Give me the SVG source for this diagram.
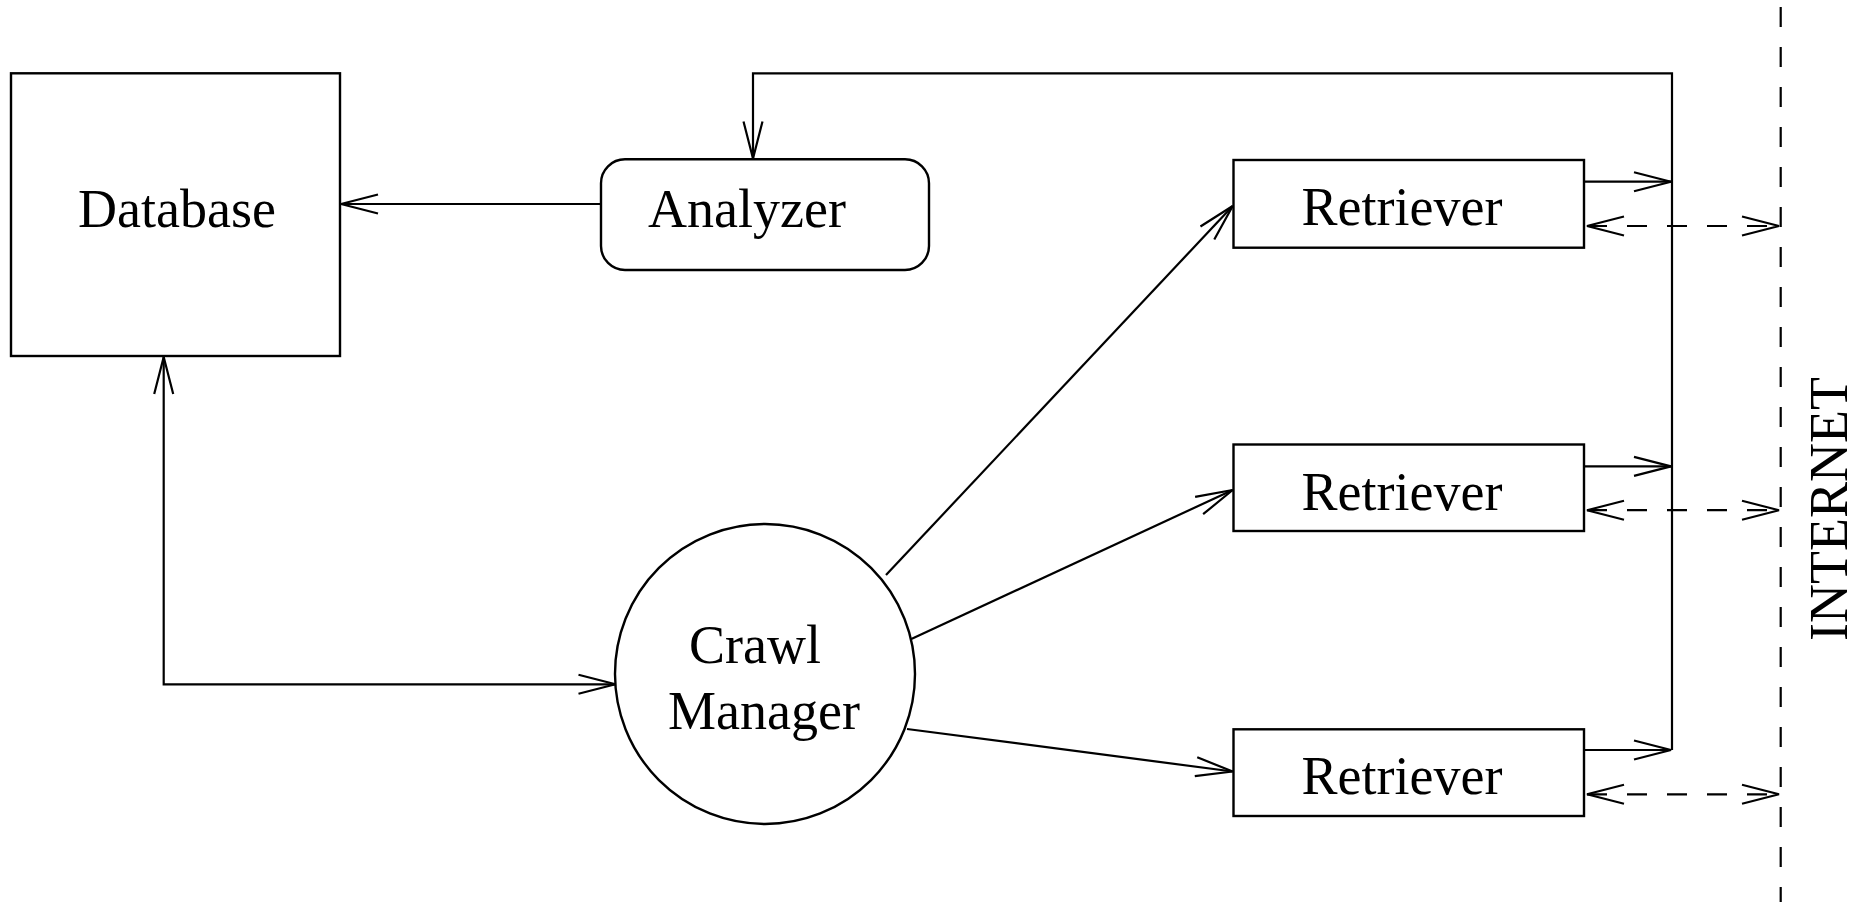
<svg xmlns="http://www.w3.org/2000/svg" width="1866" height="902" viewBox="0 0 1866 902">
<style>
.box{fill:#fff;stroke:#000;stroke-width:2.4}
.ln{fill:none;stroke:#000;stroke-width:2.2}
.dash{stroke-dasharray:20 20}
.lbl{font-family:"Liberation Serif","Times New Roman",serif;font-size:54px;fill:#000;text-anchor:middle}
</style>
<defs>
<marker id="ah" markerUnits="userSpaceOnUse" markerWidth="44" markerHeight="26" viewBox="-40 -13 44 26" refX="0" refY="0" orient="auto-start-reverse" overflow="visible">
<path d="M-37,-9.5 L0,0 L-37,9.5" fill="none" stroke="#000" stroke-width="2.2"/>
</marker>
</defs>
<rect width="1866" height="902" fill="#fff"/>
<g id="connectors">
<path class="ln" d="M601,204 L341,204" marker-end="url(#ah)"/>
<path class="ln" d="M1672,750 L1672,73.3 L753,73.3 L753,158.5" marker-end="url(#ah)"/>
<path class="ln" d="M1584,181.7 L1671,181.7" marker-end="url(#ah)"/>
<path class="ln" d="M1584,466.4 L1671,466.4" marker-end="url(#ah)"/>
<path class="ln" d="M1584,750 L1671,750" marker-end="url(#ah)"/>
<path class="ln dash" d="M1587,226 L1779,226" marker-start="url(#ah)" marker-end="url(#ah)"/>
<path class="ln dash" d="M1587,510.2 L1779,510.2" marker-start="url(#ah)" marker-end="url(#ah)"/>
<path class="ln dash" d="M1587,794.3 L1779,794.3" marker-start="url(#ah)" marker-end="url(#ah)"/>
<path class="ln" d="M163.7,357 L163.7,684.3 L615.5,684.3" marker-start="url(#ah)" marker-end="url(#ah)"/>
<path class="ln" d="M886,575 L1232.7,206" marker-end="url(#ah)"/>
<path class="ln" d="M907,641 L1232.7,490" marker-end="url(#ah)"/>
<path class="ln" d="M907,729 L1232.7,771.5" marker-end="url(#ah)"/>
</g>
<g id="internet">
<path class="ln dash" d="M1780.7,7 L1780.7,902"/>
<text class="lbl" transform="translate(1847,509) rotate(-90)">INTERNET</text>
</g>
<g id="database">
<rect class="box" x="11" y="73.3" width="329" height="282.7"/>
<text class="lbl" x="177" y="226.7">Database</text>
</g>
<g id="analyzer">
<rect class="box" x="601" y="159.3" width="328" height="110.7" rx="24" ry="24"/>
<text class="lbl" x="747" y="226.7">Analyzer</text>
</g>
<g id="crawl-manager">
<circle class="box" cx="765" cy="674" r="150"/>
<text class="lbl" x="755" y="663">Crawl</text>
<text class="lbl" x="764" y="729">Manager</text>
</g>
<g id="retriever-1">
<rect class="box" x="1233.5" y="160" width="350.5" height="87.7"/>
<text class="lbl" x="1402" y="225">Retriever</text>
</g>
<g id="retriever-2">
<rect class="box" x="1233.5" y="444.5" width="350.5" height="86.5"/>
<text class="lbl" x="1402" y="509.5">Retriever</text>
</g>
<g id="retriever-3">
<rect class="box" x="1233.5" y="729.3" width="350.5" height="86.7"/>
<text class="lbl" x="1402" y="794">Retriever</text>
</g>
</svg>
